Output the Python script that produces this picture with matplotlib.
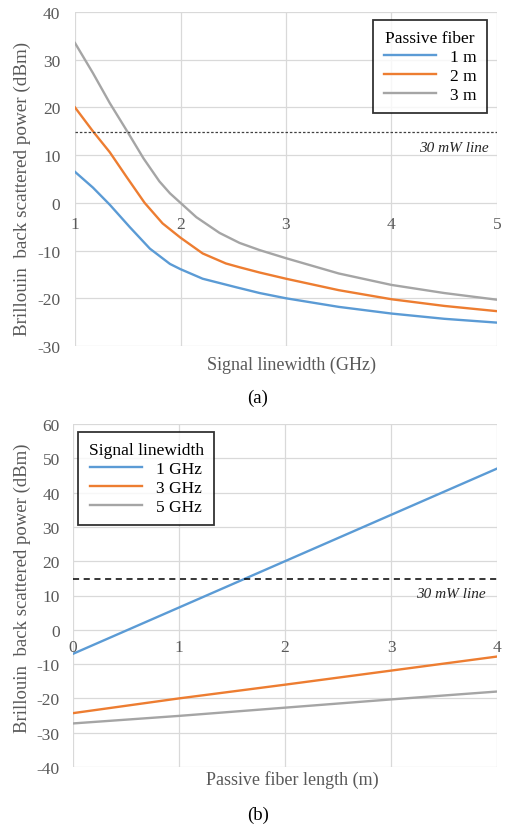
import numpy as np
import matplotlib
matplotlib.use('Agg')
import matplotlib.pyplot as plt

plt.rcParams['font.family'] = ['Liberation Serif', 'DejaVu Serif']
plt.rcParams['axes.unicode_minus'] = False

# (a) power vs signal linewidth, one curve per passive fiber length
gx_3m = [1, 1.17, 1.33, 1.5, 1.65, 1.8, 1.9, 2, 2.15, 2.37, 2.56, 2.75, 3, 3.5, 4, 4.5, 5]
power_3m = [33.5, 27.2, 20.9, 14.8, 9.3, 4.5, 2.0, 0.0, -3.0, -6.3, -8.4, -9.9, -11.6, -14.8, -17.2, -18.9, -20.3]
gx_2m = [1, 1.17, 1.33, 1.49, 1.66, 1.83, 2, 2.21, 2.43, 2.56, 2.75, 3, 3.5, 4, 4.5, 5]
power_2m = [20.0, 15.0, 10.6, 5.4, 0.0, -4.3, -7.3, -10.6, -12.7, -13.5, -14.6, -15.9, -18.3, -20.2, -21.6, -22.7]
gx_1m = [1, 1.17, 1.33, 1.52, 1.71, 1.9, 2, 2.21, 2.53, 2.75, 3, 3.5, 4, 4.5, 5]
power_1m = [6.5, 3.2, -0.4, -5.1, -9.6, -12.8, -13.9, -15.9, -17.7, -18.9, -20.0, -21.8, -23.2, -24.3, -25.1]
fiber_labels = ['1 m', '2 m', '3 m']

# (b) power vs passive fiber length, one line per signal linewidth
fiber_len_m = [0, 1, 2, 3, 4]
power_1ghz = [-7.0, 6.5, 20.0, 33.5, 47.0]
power_3ghz = [-24.3, -20.0, -16.0, -11.9, -7.8]
power_5ghz = [-27.3, -25.1, -22.7, -20.3, -18.0]
lw_labels = ['1 GHz', '3 GHz', '5 GHz']

limit_30mw = 10 * np.log10(30)  # dBm

colors = ['#5B9BD5', '#ED7D31', '#A5A5A5']
txt_gray = '#595959'
grid_gray = '#D9D9D9'

fig = plt.figure(figsize=(5.06, 8.29), dpi=100)
W, H = 506, 829


def px_axes(l, t, r, b):
    return fig.add_axes([l / W, 1 - b / H, (r - l) / W, (b - t) / H])


def style(ax, pad):
    for s in ax.spines.values():
        s.set_visible(False)
    ax.grid(True, color=grid_gray, linewidth=0.9)
    ax.set_axisbelow(True)
    ax.tick_params(length=0, labelsize=12.5, colors=txt_gray, pad=pad)


def boxed_legend(ax, title, loc, anchor):
    leg = ax.legend(title=title, loc=loc, fontsize=12.5, title_fontsize=12.5,
                    frameon=True, fancybox=False, handlelength=3.0,
                    borderpad=0.6, labelspacing=0.15, borderaxespad=0,
                    bbox_to_anchor=anchor)
    leg.get_frame().set_edgecolor('black')
    leg.get_frame().set_linewidth(1.3)
    return leg


# ---- panel (a)
ax1 = px_axes(75, 13, 497, 347)
style(ax1, 10.5)
for xs, y, c, lab in zip([gx_1m, gx_2m, gx_3m], [power_1m, power_2m, power_3m],
                         colors, fiber_labels):
    ax1.plot(xs, y, color=c, lw=1.7, label=lab)
ax1.axhline(limit_30mw, color='#404040', lw=0.9, ls=(0, (2, 1.5)))
ax1.set_xlim(1, 5)
ax1.set_ylim(-30, 40)
ax1.set_xticks([1, 2, 3, 4, 5])
ax1.set_yticks(range(-30, 41, 10))
ax1.xaxis.set_ticklabels([])
for xv in [1, 2, 3, 4, 5]:
    ax1.text(xv, -2.7, str(xv), ha='center', va='top', fontsize=12.5, color=txt_gray)
ax1.text(4.92, 11.6, '30 mW line', ha='right', va='center', fontsize=11,
         style='italic', color='#262626')
boxed_legend(ax1, 'Passive fiber', 'upper right', (0.976, 0.976))

fig.text(292 / W, 1 - 365 / H, 'Signal linewidth (GHz)', ha='center', va='center',
         fontsize=13, color=txt_gray)
fig.text(22 / W, 1 - 189 / H, 'Brillouin  back scattered power (dBm)', rotation=90,
         ha='center', va='center', fontsize=13.8, color=txt_gray)
fig.text(258 / W, 1 - 398 / H, '(a)', ha='center', va='center', fontsize=13.5)

# ---- panel (b)
ax2 = px_axes(73, 425, 497, 768)
style(ax2, 9.5)
for y, c, lab in zip([power_1ghz, power_3ghz, power_5ghz], colors, lw_labels):
    ax2.plot(fiber_len_m, y, color=c, lw=1.7, label=lab)
ax2.axhline(limit_30mw, color='black', lw=1.1, ls=(0, (4, 3)))
ax2.set_xlim(0, 4)
ax2.set_ylim(-40, 60)
ax2.set_xticks([0, 1, 2, 3, 4])
ax2.set_yticks(range(-40, 61, 10))
ax2.xaxis.set_ticklabels([])
for xv in [0, 1, 2, 3, 4]:
    ax2.text(xv, -2.75, str(xv), ha='center', va='top', fontsize=12.5, color=txt_gray)
ax2.text(3.89, 10.6, '30 mW line', ha='right', va='center', fontsize=11,
         style='italic', color='#262626')
boxed_legend(ax2, 'Signal linewidth', 'upper left', (0.012, 0.977))

fig.text(292 / W, 1 - 780 / H, 'Passive fiber length (m)', ha='center', va='center',
         fontsize=13, color=txt_gray)
fig.text(22 / W, 1 - 588 / H, 'Brillouin  back scattered power (dBm)', rotation=90,
         ha='center', va='center', fontsize=13.5, color=txt_gray)
fig.text(258 / W, 1 - 815 / H, '(b)', ha='center', va='center', fontsize=13.5)

fig.savefig('out.png', dpi=100)
